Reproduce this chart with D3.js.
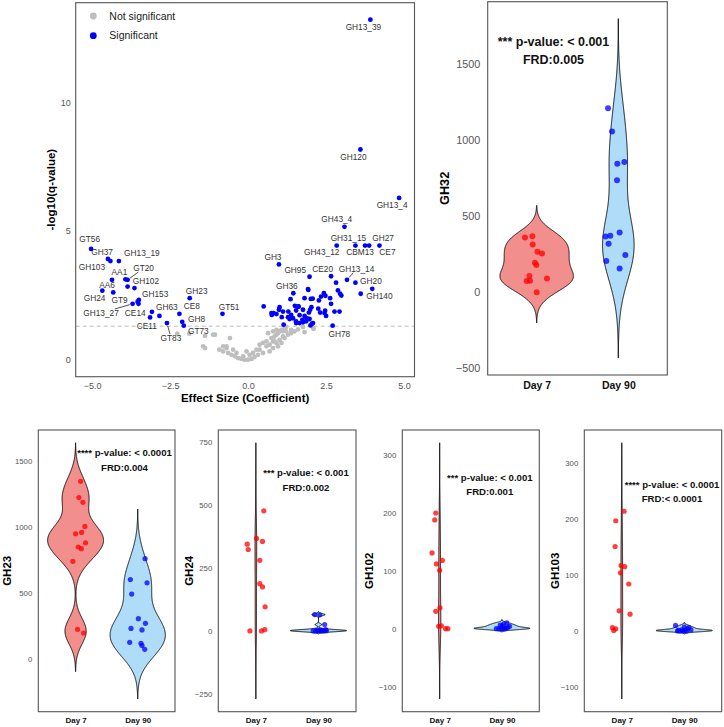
<!DOCTYPE html>
<html><head><meta charset="utf-8">
<script src="https://cdn.jsdelivr.net/npm/d3@7"></script>
<style>
body{margin:0;background:#fff}
svg{display:block}
text{font-family:"Liberation Sans",Arial,sans-serif}
</style>
</head><body>
<svg id="c" width="724" height="727"></svg>
<script>
// ---------------- DATA ----------------
// Volcano: labelled significant features [name, effect size, -log10(q)]
const volcanoLabeled = [
 ["GH13_39",3.92,13.20],["GH120",3.60,8.16],["GH13_4",4.84,6.28],["GH43_4",3.09,5.16],
 ["GH43_12",2.84,4.43],["GH31_15",3.44,4.43],["CBM13",3.75,4.43],["CE7",3.88,4.43],["GH27",4.21,4.43],
 ["GH3",0.99,3.70],["GH95",1.97,3.22],["CE20",2.66,3.24],["GH13_14",3.17,3.10],["GH20",3.98,2.75],["GH140",3.61,2.56],
 ["GH36",1.45,2.58],["GH78",2.71,1.32],["GT51",-0.82,1.78],["GH23",-1.87,2.39],["CE8",-2.20,1.78],["GH8",-2.11,1.47],
 ["GT73",-2.06,1.32],["GT83",-2.60,1.42],["CE11",-3.14,1.64],["GH63",-2.84,1.70],["CE14",-3.08,1.86],["GH13_27",-3.70,2.17],
 ["GH153",-3.50,2.32],["GT9",-4.32,2.61],["GH24",-4.67,2.68],["AA6",-4.36,3.10],["GH102",-3.64,2.78],["GT20",-3.86,3.10],
 ["AA1",-3.93,3.12],["GH103",-4.49,3.91],["GH37",-4.41,3.83],["GH13_19",-4.14,3.83],["GT56",-5.03,4.30]
];
// unlabelled significant features [effect, -log10(q)]
const volcanoSigOther = [
 [0.50,2.07],[1.01,2.04],[0.82,1.81],[0.76,1.74],[0.91,1.77],[1.12,1.87],[1.08,1.65],[1.29,1.87],[1.28,1.65],
 [1.50,2.09],[1.61,2.07],[1.54,1.91],[1.76,1.94],[1.65,1.73],[1.81,1.70],[1.74,1.55],[1.88,1.61],[1.99,1.94],
 [1.95,1.83],[2.03,2.04],[1.44,1.61],[1.33,1.58],[1.54,1.49],[1.65,1.42],[1.76,1.45],[1.86,1.49],[1.97,1.58],
 [2.25,1.98],[2.31,1.83],[2.47,1.90],[2.50,1.70],[2.77,1.87],[2.93,1.87],[1.36,2.35],[1.81,2.39],[2.01,2.36],
 [2.43,2.58],[2.48,2.48],[2.63,2.39],[2.66,2.17],[2.27,2.30],[1.93,2.71],[2.34,2.45],[2.88,2.69],[2.95,2.56],
 [2.99,2.49],[2.05,1.40],[2.00,1.33],[1.14,1.36],[1.54,1.42],[2.08,1.42],[2.45,1.81],[1.38,1.74],[3.44,2.99],
 [2.82,2.99],[-3.86,2.84],[-3.54,2.25],[-3.51,2.17],[0.75,1.81],[0.99,1.94],[1.92,2.74],[2.07,2.37],[1.62,2.06]
];
// not significant features [effect, -log10(q)]
const volcanoNonSig = [
 [-1.38,0.45],[-1.06,0.97],[-0.58,0.84],[-0.92,0.39],[-0.80,0.32],[-0.64,0.26],[-0.53,0.19],[-0.42,0.13],
 [-0.32,0.06],[-0.21,0.03],[-0.11,0.00],[0.00,0.00],[0.11,0.03],[0.21,0.10],[0.32,0.19],[0.37,0.39],[0.48,0.26],
 [0.59,0.52],[0.69,0.58],[0.80,0.71],[0.85,0.90],[0.91,0.97],[0.96,1.03],[1.01,1.10],[1.07,1.16],[1.12,1.10],
 [1.17,1.23],[1.22,1.27],[1.38,1.03],[1.49,1.10],[1.76,1.27],[2.08,1.23],[0.69,0.32],[0.80,0.45],[0.91,0.65],
 [1.01,0.77],[0.48,0.65],[0.27,0.39],[0.05,0.19],[-0.16,0.13],[-0.37,0.26],[-0.48,0.39],[-0.69,0.45],[-0.80,0.52],
 [-0.05,0.32],[0.16,0.26],[0.37,0.58],[0.59,0.71],[0.75,0.84],[0.85,0.71],[0.96,0.52],[1.07,0.65],[1.17,0.84],
 [1.28,0.97],[1.38,1.16],[1.12,0.90],[1.22,1.10],[0.91,1.16],[0.80,1.10],[0.64,1.03],[-2.27,1.01],[-1.88,1.01],
 [-1.38,0.93],[-1.12,0.97],[-1.44,0.52],[-0.69,0.52],[2.10,1.20],[1.81,1.07],[1.60,1.18]
];
const volcanoXTicks = [-5,-2.5,0,2.5,5];
const volcanoYTicks = [0,5,10];
const qThreshold = 1.30;
const legendLabels = ["Not significant","Significant"];
// ggrepel-style label placement (pixel offsets from the point)
const labelOffsets = {
 GH13_39:[-7,7],GH120:[-7,7.4],GH13_4:[-7,7.3],GH43_4:[-7.7,-7.7],GH43_12:[-15,7],GH31_15:[-7,-7.4],CBM13:[-5,7],
 CE7:[18.3,7],GH27:[3.7,-7.4],GH3:[-6,-7],GH95:[-14.3,-6.7],CE20:[-8.4,-7.3],GH13_14:[9.6,-11],GH20:[-1.3,-7.3],
 GH140:[18.7,2.7],GH36:[-6.4,-7.3],GH78:[6.7,8],GT51:[6.6,-7],GH23:[7,-7.3],CE8:[12.4,-7.3],GH8:[14.4,-2.7],
 GT73:[14.6,5.7],GT83:[4,15],CE11:[-3.3,8.3],GH63:[7.4,-9.3],CE14:[-16.7,1.3],GH13_27:[-31.6,9.3],GH153:[16.3,-6],
 GT9:[6.3,7.3],GH24:[-7.7,7.6],AA6:[-5,5.7],GH102:[11.4,-7.3],GT20:[16,-11.7],AA1:[-6,-7.6],GH103:[-16,7.7],
 GH37:[-8.3,-9.3],GH13_19:[23,-7.7],GT56:[-1.4,-9.7]
};
const labelConnectors = ["GT20","GH13_27","GT83","GH13_14"];

// Violin panels
const groups = ["Day 7","Day 90"];
const gh32Day7  = [360,369,314,266,255,194,179,107,74,76,90,0];
const gh32Day90 = [1210,1057,856,845,736,393,367,371,319,245,205,157];
const gh32Jit7  = [-0.143,-0.053,-0.049,0.009,0.065,-0.021,-0.004,-0.089,-0.123,-0.082,0.126,0];
const gh32Jit90 = [-0.126,-0.077,0.074,-0.012,-0.016,0.016,-0.156,-0.098,-0.119,0.086,-0.147,0.016];
const gh32Ticks = [-500,0,500,1000,1500];

const gh23Day7  = [1344,1221,1186,1003,948,958,880,848,835,740,226,198];
const gh23Day90 = [760,602,577,492,306,271,233,221,128,120,103,75];
const gh23Jit7  = [0.081,0.053,0.118,0.150,0,0.097,0.161,0.043,0.092,-0.043,0.032,0.129];
const gh23Jit90 = [0.118,-0.118,0.15,-0.097,0.011,0.124,-0.108,0.069,-0.129,0.053,0.069,0.113];
const gh23Ticks = [0,500,1000,1500];

const gh24Day7  = [478,368,356,345,324,281,188,175,96,0,0,5];
const gh24Day90 = [65,64,25,0,0,0,0,0,1,2,3,5];
const gh24Jit7  = [0.127,0.011,0.106,-0.138,-0.122,0.063,0.063,0.106,0.148,-0.095,0.090,0.143];
const gh24Jit90 = [-0.059,0.021,0.1,-0.084,-0.043,0.011,0.052,0.09,0.127,-0.016,0.037,0.116];
const gh24Ticks = [-250,0,250,500,750];

const gh102Day7  = [200,188,131,112,118,101,30,36,4,5,0,0];
const gh102Day90 = [0,0,0,0,0,1,2,4,5,6,8,10];
const gh102Jit7  = [-0.063,-0.079,-0.122,-0.052,0.043,0,-0.063,0.005,-0.016,0.027,0.095,0.132];
const gh102Jit90 = [-0.09,-0.048,-0.011,0.016,0.043,0.068,0.095,0.122,0.005,-0.027,0.027,0.079];
const gh102Ticks = [-100,0,100,200,300];

const gh103Day7  = [214,197,151,117,115,104,84,36,30,6,4,1];
const gh103Day90 = [10,1,0,2,0,1,4,6,2,0,0,7];
const gh103Jit7  = [0.037,-0.096,-0.107,-0.011,0.048,-0.021,0.112,-0.043,0.133,-0.149,-0.096,-0.128];
const gh103Jit90 = [-0.139,-0.096,-0.107,-0.043,-0.016,0.011,0.048,0.075,0.107,0.037,-0.069,0];
const gh103Ticks = [-100,0,100,200,300];

// ---------------- DRAWING ----------------
const svg = d3.select("#c");
const TICK_COL = "#555";

function expand(ext, f){ const d=(ext[1]-ext[0])*f; return [ext[0]-d, ext[1]+d]; }

// ---- Volcano ----
(function(){
  const box = {l:75.7, r:414.5, t:2.7, b:376.7};
  const allX = volcanoLabeled.map(d=>d[1]).concat(volcanoSigOther.map(d=>d[0]), volcanoNonSig.map(d=>d[0]));
  const allY = volcanoLabeled.map(d=>d[2]).concat(volcanoSigOther.map(d=>d[1]), volcanoNonSig.map(d=>d[1]));
  const x = d3.scaleLinear().domain(expand(d3.extent(allX),0.05)).range([box.l, box.r]);
  const y = d3.scaleLinear().domain(expand(d3.extent(allY),0.05)).range([box.b, box.t]);
  const g = svg.append("g");

  // axes (labels only)
  const ax = g.append("g").attr("transform",`translate(0,${box.b})`)
    .call(d3.axisBottom(x).tickValues(volcanoXTicks).tickFormat(d3.format(".1f")).tickSize(0).tickPadding(6));
  ax.select(".domain").remove();
  ax.selectAll("text").attr("font-size",9).attr("fill",TICK_COL).attr("font-family",null);
  const ay = g.append("g").attr("transform",`translate(${box.l},0)`)
    .call(d3.axisLeft(y).tickValues(volcanoYTicks).tickFormat(d3.format("d")).tickSize(0).tickPadding(5));
  ay.select(".domain").remove();
  ay.selectAll("text").attr("font-size",9).attr("fill",TICK_COL).attr("font-family",null);

  // threshold
  g.append("line").attr("x1",box.l).attr("x2",box.r).attr("y1",y(qThreshold)).attr("y2",y(qThreshold))
    .attr("stroke","#bdbdbd").attr("stroke-width",1).attr("stroke-dasharray","4,3");

  const r = 2.4;
  g.append("g").selectAll("circle").data(volcanoNonSig).join("circle")
    .attr("cx",d=>x(d[0])).attr("cy",d=>y(d[1])).attr("r",r).attr("fill","#bebebe");
  g.append("g").selectAll("circle").data(volcanoSigOther).join("circle")
    .attr("cx",d=>x(d[0])).attr("cy",d=>y(d[1])).attr("r",r).attr("fill","#0000ff");
  g.append("g").selectAll("circle").data(volcanoLabeled).join("circle")
    .attr("cx",d=>x(d[1])).attr("cy",d=>y(d[2])).attr("r",r).attr("fill","#0000ff");

  // labels
  const lg = g.append("g");
  volcanoLabeled.forEach(d=>{
    const px = x(d[1]), py = y(d[2]);
    const off = labelOffsets[d[0]] || [0,-8];
    const t = lg.append("text").attr("x",px+off[0]).attr("y",py+off[1]).attr("dy","0.35em")
      .attr("text-anchor","middle").attr("font-size",8.3).attr("fill","#333").text(d[0]);
    if(labelConnectors.includes(d[0])){
      const bb = t.node().getBBox();
      const cx = bb.x+bb.width/2, cy = bb.y+bb.height/2;
      const dx = cx-px, dy = cy-py;
      // intersection with bbox (shrunken slightly)
      const hw = bb.width/2+1, hh = bb.height/2-1;
      let s = 1;
      if(Math.abs(dx)>0) s = Math.min(s, 1 - hw/Math.abs(dx) > 0 ? 1 - hw/Math.abs(dx) : 1);
      let s2 = Math.abs(dy)>0 ? 1 - hh/Math.abs(dy) : 1;
      let tt = Math.max(Math.min(1 - hw/Math.abs(dx||1e-9), 1), Math.min(1 - hh/Math.abs(dy||1e-9),1));
      tt = Math.max(0, tt);
      const len = Math.hypot(dx,dy), s0 = (r+0.5)/len;
      lg.append("line").attr("x1",px+dx*s0).attr("y1",py+dy*s0).attr("x2",px+dx*tt).attr("y2",py+dy*tt)
        .attr("stroke","#222").attr("stroke-width",0.8);
    }
  });

  // border
  g.append("rect").attr("x",box.l).attr("y",box.t).attr("width",box.r-box.l).attr("height",box.b-box.t)
    .attr("fill","none").attr("stroke","#555").attr("stroke-width",1.1);

  // legend
  const leg = g.append("g");
  [["#bebebe",16],["#0000ff",35.7]].forEach((c,i)=>{
    leg.append("circle").attr("cx",93.3).attr("cy",c[1]).attr("r",3.4).attr("fill",c[0]);
    leg.append("text").attr("x",109.3).attr("y",c[1]).attr("dy","0.35em").attr("font-size",10.5)
      .attr("fill","#1a1a1a").text(legendLabels[i]);
  });

  // titles
  g.append("text").attr("x",(box.l+box.r)/2).attr("y",398).attr("dy","0.35em").attr("text-anchor","middle")
    .attr("font-size",11.5).attr("font-weight","bold").attr("fill","#000").text("Effect Size (Coefficient)");
  g.append("text").attr("transform",`translate(51,${(box.t+box.b)/2}) rotate(-90)`).attr("dy","0.35em")
    .attr("text-anchor","middle").attr("font-size",11.5).attr("font-weight","bold").attr("fill","#000")
    .text("-log10(q-value)");
})();

// ---- Violin helpers ----
function nrd0(v){
  const s = v.slice().sort(d3.ascending);
  const sd = d3.deviation(s);
  const iqr = d3.quantile(s,0.75)-d3.quantile(s,0.25);
  let lo = Math.min(sd, iqr/1.34);
  if(!(lo>0)) lo = sd || Math.abs(s[0]) || 1;
  return 0.9*lo*Math.pow(s.length,-0.2);
}
function kde(v){
  const bw = nrd0(v);
  const lo = d3.min(v)-3*bw, hi = d3.max(v)+3*bw, n = 512;
  const pts = d3.range(n).map(i=>{
    const yv = lo+(hi-lo)*i/(n-1);
    let s=0; for(const xv of v){ const z=(yv-xv)/bw; s+=Math.exp(-0.5*z*z); }
    return [yv, s/(v.length*bw*Math.sqrt(2*Math.PI))];
  });
  return {lo,hi,pts};
}

function violinPanel(cfg){
  const {box, title, data, jit, ticks, notes, fs} = cfg;
  const g = svg.append("g");
  const dens = data.map(kde);
  const maxD = d3.max(dens, d=>d3.max(d.pts, p=>p[1]));
  const yExt = [d3.min(dens,d=>d.lo), d3.max(dens,d=>d.hi)];
  const y = d3.scaleLinear().domain(expand(yExt,0.05)).range([box.b, box.t]);
  const x = d3.scaleLinear().domain([0.4, 2.6]).range([box.l, box.r]);
  const fills = ["#f28e8c","#aedcf9"], pcol = ["#ff0000","#0000ff"];

  dens.forEach((d,i)=>{
    const c = i+1;
    const area = d3.area()
      .y(p=>y(p[0]))
      .x0(p=>x(c - 0.45*p[1]/maxD))
      .x1(p=>x(c + 0.45*p[1]/maxD));
    g.append("path").attr("d",area(d.pts)).attr("fill",fills[i]).attr("stroke","#000")
      .attr("stroke-width",0.9).attr("stroke-linejoin","round");
  });
  data.forEach((vals,i)=>{
    g.append("g").selectAll("circle").data(vals).join("circle")
      .attr("cx",(v,j)=>x(i+1+jit[i][j])).attr("cy",v=>y(v)).attr("r",fs.pr)
      .attr("fill",pcol[i]).attr("fill-opacity",0.75);
  });

  const ay = g.append("g").attr("transform",`translate(${box.l},0)`)
    .call(d3.axisLeft(y).tickValues(ticks).tickFormat(d3.format("d")).tickSize(0).tickPadding(fs.tp));
  ay.select(".domain").remove();
  ay.selectAll("text").attr("font-size",fs.tick).attr("fill",TICK_COL).attr("font-family",null);

  const ax = g.append("g").attr("transform",`translate(0,${box.b})`)
    .call(d3.axisBottom(x).tickValues([1,2]).tickFormat(d=>groups[d-1]).tickSize(0).tickPadding(fs.cp));
  ax.select(".domain").remove();
  ax.selectAll("text").attr("font-size",fs.cat).attr("font-weight","bold").attr("fill","#111").attr("font-family",null);

  g.append("rect").attr("x",box.l).attr("y",box.t).attr("width",box.r-box.l).attr("height",box.b-box.t)
    .attr("fill","none").attr("stroke","#555").attr("stroke-width",1.1);

  g.append("text").attr("transform",`translate(${cfg.titleX},${(box.t+box.b)/2}) rotate(-90)`).attr("dy","0.35em")
    .attr("text-anchor","middle").attr("font-size",fs.title).attr("font-weight","bold").attr("fill","#000").text(title);

  notes.forEach((n,k)=>{
    g.append("text").attr("x",cfg.noteX).attr("y",box.t+cfg.noteY[k]).attr("dy","0.35em")
      .attr("text-anchor","middle").attr("font-size",fs.note).attr("font-weight","bold").attr("fill","#111").text(n);
  });
}

const bigFs = {tick:10.8, cat:10.5, title:12.7, note:12.5, pr:3, tp:7.5, cp:7};
const smallFs = {tick:7.8, cat:8, title:11.5, note:9.6, pr:2.6, tp:6, cp:6};

violinPanel({box:{l:487.7,r:667.3,t:1.7,b:375}, title:"GH32", titleX:445,
  data:[gh32Day7,gh32Day90], jit:[gh32Jit7,gh32Jit90], ticks:gh32Ticks,
  notes:["*** p-value: < 0.001","FRD:0.005"], noteX:553.5, noteY:[40,58.3], fs:bigFs});

violinPanel({box:{l:38.3,r:175,t:430,b:711.7}, title:"GH23", titleX:7,
  data:[gh23Day7,gh23Day90], jit:[gh23Jit7,gh23Jit90], ticks:gh23Ticks,
  notes:["**** p-value: < 0.0001","FRD:0.004"], noteX:124.5, noteY:[22.7,37.3], fs:smallFs});

violinPanel({box:{l:218.3,r:356,t:430,b:711.7}, title:"GH24", titleX:188.5,
  data:[gh24Day7,gh24Day90], jit:[gh24Jit7,gh24Jit90], ticks:gh24Ticks,
  notes:["*** p-value: < 0.001","FRD:0.002"], noteX:306, noteY:[42.7,57.3], fs:smallFs});

violinPanel({box:{l:402.3,r:539.3,t:430,b:711.7}, title:"GH102", titleX:369,
  data:[gh102Day7,gh102Day90], jit:[gh102Jit7,gh102Jit90], ticks:gh102Ticks,
  notes:["*** p-value: < 0.001","FRD:0.001"], noteX:489.8, noteY:[47.3,61.7], fs:smallFs});

violinPanel({box:{l:584.3,r:721.7,t:430,b:711.7}, title:"GH103", titleX:555,
  data:[gh103Day7,gh103Day90], jit:[gh103Jit7,gh103Jit90], ticks:gh103Ticks,
  notes:["**** p-value: < 0.0001","FRD:< 0.0001"], noteX:672, noteY:[54.3,68.3], fs:smallFs});
</script>
</body></html>
